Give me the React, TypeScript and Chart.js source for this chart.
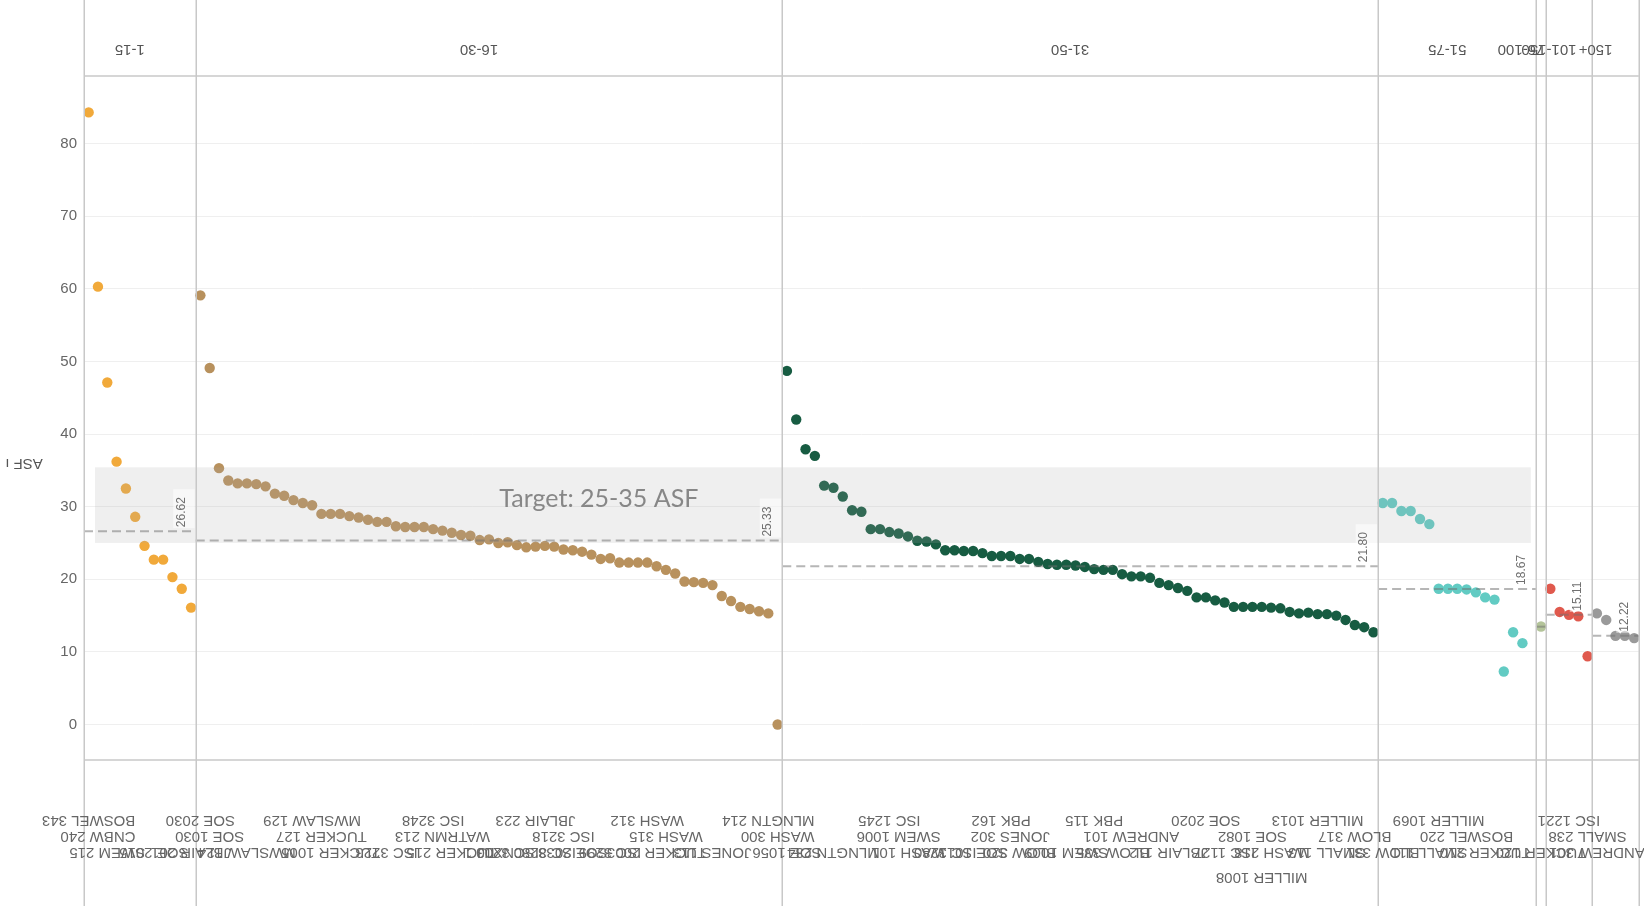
import React, { useEffect, useRef } from "react";
import { Chart, registerables } from "chart.js";

Chart.register(...registerables);

// ---------- DATA ----------
const groups = ["1-15", "16-30", "31-50", "51-75", "76-100", "101-150", "150+"];

const asf1 = [84.3, 60.3, 47.1, 36.2, 32.5, 28.6, 24.6, 22.7, 22.7, 20.3, 18.7, 16.1];
const asf2 = [
  59.1, 49.1, 35.3, 33.6, 33.2, 33.2, 33.1, 32.8, 31.8, 31.5, 30.9, 30.5, 30.2, 29.0, 29.0, 29.0,
  28.7, 28.5, 28.2, 27.9, 27.9, 27.3, 27.2, 27.2, 27.2, 26.9, 26.7, 26.4, 26.1, 26.0, 25.4, 25.5,
  25.0, 25.1, 24.7, 24.4, 24.5, 24.6, 24.5, 24.1, 24.0, 23.8, 23.4, 22.8, 22.9, 22.3, 22.3, 22.3,
  22.3, 21.8, 21.3, 20.8, 19.7, 19.6, 19.5, 19.2, 17.7, 17.0, 16.2, 15.9, 15.6, 15.3, 0,
];
const asf3 = [
  48.7, 42.0, 37.9, 37.0, 32.9, 32.6, 31.4, 29.5, 29.3, 26.9, 26.9, 26.5, 26.3, 25.9, 25.3, 25.2,
  24.8, 24.0, 24.0, 23.9, 23.9, 23.6, 23.2, 23.2, 23.2, 22.8, 22.8, 22.4, 22.1, 22.0, 22.0, 21.9,
  21.7, 21.4, 21.3, 21.3, 20.7, 20.4, 20.4, 20.2, 19.5, 19.2, 18.8, 18.4, 17.5, 17.5, 17.1, 16.8,
  16.2, 16.2, 16.2, 16.2, 16.1, 16.0, 15.5, 15.3, 15.4, 15.2, 15.2, 15.0, 14.4, 13.7, 13.4, 12.7,
];
const asf4: (number | null)[] = [30.5, 30.5, 29.4, 29.4, 28.3, 27.6, 18.7, 18.7, 18.7, 18.6, 18.2, 17.5, 17.2, 7.3, 12.7, 11.2, null];
const asf5 = [13.5];
const asf6 = [18.7, 15.5, 15.1, 14.9, 9.4];
const asf7 = [15.3, 14.4, 12.2, 12.2, 11.9];

const rooms1 = ["BOSWEL 343", "CNBW 240", "SWEM 215", "JBLAIR 313", "ISC 2291", "WASH 307", "SWEM DULIN", "SOE 2015", "ISC 1129", "TUCKER 124", "MLNGTN 211", "JBLAIR 201"];
const rooms2 = [
  "SOE 2030", "SOE 1030", "SOE 3030", "MWSLAW 133", "MWSLAW 119", "MWSLAW 124", "MWSLAW 137", "MWSLAW 120",
  "WREN 204", "SWEM 1005", "MWSLAW 141", "TUCKER 201", "MWSLAW 129", "TUCKER 127", "TUCKER 1005", "BLOW 311",
  "ISC 1111", "SOE 1016", "SOE 2016", "JBLAIR 205", "ISC 3223", "ISC 1125", "ISC 3253", "BOSWEL 4",
  "MLNGTN 113", "ISC 3248", "WATRMN 213", "TUCKER 215", "SWEM 1001", "ISC 3263", "NX00 3", "NX00 1",
  "MLNGTN 150", "ISC 3213", "ISC 3013", "CHNDLR 101", "JBLAIR 223", "ISC 3280", "MLNGTN 233", "ISC 3218",
  "SOE 2038", "TUCKER 121", "BLOW 201", "BOSWEL 2", "ISC 3299", "WASH 308", "JBLAIR 229", "MWSLAW 239",
  "WASH 312", "TUCKER 2003", "WASH 315", "MLNGTN 117", "APTS 220", "WASH 209", "MWSLAW 275", "JONES 113",
  "ISC 1279", "SWEM 2005", "WASH 317", "BOSWEL 305", "TUCKER 2008", "MLNGTN 214", "WASH 300",
];
const rooms3 = [
  "SOE 1056", "MWSLAW 139", "CHNDLR 102", "TUCKER 1001", "MWSLAW 140", "MLNGTN 234", "CHNDLR 201", "WASH 201",
  "MWSLAW 143", "MWSLAW 144", "CHNDLR 227", "ISC 1245", "SWEM 1006", "WASH 101", "MLNGTN 251", "WASH 104",
  "JBLAIR 206", "ISC 1280", "PBK 101", "WASH 107", "SOE 1013", "BLOW 334", "MLNGTN 119", "PBK 162",
  "JONES 302", "BLOW 320", "WASH 111", "JONES 306", "TUCKER 1030", "JONES 305", "SWEM 1009", "BOSWEL 303",
  "WREN 301", "PBK 115", "JBLAIR 208", "BLOW 335", "MILLER 1027", "ANDREW 101", "ISC 1113", "MILLER 1018",
  "ANDREW 201", "JBLAIR 112", "SMALL 122", "BLOW 330", "BOSWEL 203", "SOE 2020", "MILLER 1090", "ISC 1127",
  "CNBW 208", "TUCKER 102", "SOE 1082", "MILLER 1008", "WASH 218", "SWEM 2002", "BOSWEL 301", "WREN 201",
  "MWSLAW CTRM", "MILLER 1013", "SMALL 113", "JONES 304", "WASH 214", "BLOW 317", "MILLER 1084", "ANDREW 102",
];
const rooms4 = [
  "BLOW 331", "MWSLAW 126", "EWELL 151", "BLOW 332", "MWSLAW 127", "SMALL 111", "MILLER 1069", "EWELL 115",
  "SMALL 114", "BOSWEL 220", "MWSLAW 142", "TUCKER 210", "BOSWEL 225", "SMALL 109", "ANDREW 104", "JONES 201",
  "TUCKER 216",
];
const rooms5 = ["TUCKER 120"];
const rooms6 = ["TUCKER 112", "ANDREW 121", "ISC 1221", "EWELL 200", "SMALL 238"];
const rooms7 = ["ANDREW 301", "ANDREW 302", "ISC 3291", "WREN 200", "SMALL 150"];

const groupAverages = [26.62, 25.33, 21.8, 18.67, 13.47, 15.11, 12.22];
const groupColors = ["#f1a93a", "#b8915d", "#175c42", "#62cbc3", "#b4c49a", "#e0594d", "#9a9a9a"];

const targetLow = 25;
const targetHigh = 35;
const targetText = "Target: 25-35 ASF";
const yTitle = "ASF \u0131";

const seriesValues: (number | null)[][] = [asf1, asf2, asf3, asf4, asf5, asf6, asf7];
const seriesRooms: string[][] = [rooms1, rooms2, rooms3, rooms4, rooms5, rooms6, rooms7];

// ---------- DERIVED ----------
const offsets: number[] = [];
let acc = 0;
seriesValues.forEach((v) => {
  offsets.push(acc);
  acc += v.length;
});
const totalSlots = acc;

const W = 1644;
const H = 906;

const overlayPlugin = {
  id: "overlay",
  beforeDraw(chart: any) {
    const ctx = chart.ctx;
    ctx.save();
    ctx.fillStyle = "#ffffff";
    ctx.fillRect(0, 0, chart.width, chart.height);
    ctx.restore();
  },
  afterDatasetsDraw(chart: any) {
    const { ctx, chartArea: ca, scales } = chart;
    const x = scales.x;
    const y = scales.y;
    ctx.save();

    // target band (drawn over points, translucent)
    const bx0 = x.getPixelForValue(1.18);
    const bx1 = x.getPixelForValue(offsets[4] - 0.6);
    const by0 = y.getPixelForValue(targetHigh) - 3;
    const by1 = y.getPixelForValue(targetLow);
    ctx.fillStyle = "rgba(170,170,170,0.19)";
    ctx.fillRect(bx0, by0, bx1 - bx0, by1 - by0);

    // average reference lines
    groups.forEach((g, gi) => {
      const n = seriesValues[gi].length;
      const px0 = x.getPixelForValue(offsets[gi]);
      const px1 = x.getPixelForValue(offsets[gi] + n);
      const py = y.getPixelForValue(groupAverages[gi]);
      ctx.save();
      ctx.strokeStyle = "rgba(110,110,110,0.5)";
      ctx.lineWidth = 2;
      ctx.setLineDash([9, 5]);
      ctx.beginPath();
      ctx.moveTo(px0, py);
      ctx.lineTo(px1, py);
      ctx.stroke();
      ctx.restore();
      if (px1 - px0 > 30) {
        const label = groupAverages[gi].toFixed(2);
        ctx.save();
        ctx.font = '12px "Liberation Sans", Arial, sans-serif';
        const tw = ctx.measureText(label).width;
        const cx = px1 - 14.5;
        const bottom = py - 4;
        ctx.fillStyle = "rgba(255,255,255,0.55)";
        ctx.fillRect(cx - 8, bottom - tw - 8, px1 - (cx - 8) - 1, tw + 9);
        ctx.translate(cx, bottom);
        ctx.rotate(-Math.PI / 2);
        ctx.fillStyle = "#707070";
        ctx.textAlign = "left";
        ctx.textBaseline = "middle";
        ctx.fillText(label, 0, 0);
        ctx.restore();
      }
    });

    // target annotation
    ctx.save();
    ctx.font = '25px Lato, "Noto Sans", sans-serif';
    ctx.fillStyle = "#878787";
    ctx.textAlign = "center";
    ctx.textBaseline = "alphabetic";
    ctx.fillText(targetText, x.getPixelForValue(55.3), y.getPixelForValue(30));
    ctx.restore();

    // panel divider lines and frame
    ctx.strokeStyle = "#c8c8c8";
    ctx.lineWidth = 1.5;
    const bounds = [...offsets, totalSlots];
    bounds.forEach((b) => {
      const px = Math.round(x.getPixelForValue(b)) + 0.25;
      ctx.beginPath();
      ctx.moveTo(px, 0);
      ctx.lineTo(px, chart.height);
      ctx.stroke();
    });
    [ca.top, ca.bottom].forEach((py: number) => {
      ctx.beginPath();
      ctx.moveTo(ca.left, py);
      ctx.lineTo(ca.right, py);
      ctx.stroke();
    });

    // header labels (upside-down)
    ctx.font = '15px "Liberation Sans", Arial, sans-serif';
    ctx.fillStyle = "#555555";
    ctx.textAlign = "center";
    ctx.textBaseline = "middle";
    groups.forEach((g, gi) => {
      const n = seriesValues[gi].length;
      const pw = x.getPixelForValue(offsets[gi] + n) - x.getPixelForValue(offsets[gi]);
      const shift = pw < 60 ? 20 : 10;
      const cx = x.getPixelForValue(offsets[gi] + n / 2) - shift;
      ctx.save();
      ctx.translate(cx, ca.top - 27);
      ctx.rotate(Math.PI);
      ctx.fillText(g, 0, 0);
      ctx.restore();
    });

    // footer category labels (upside-down, staggered; heavily overlapping ones are dropped)
    ctx.font = '15px "Liberation Sans", Arial, sans-serif';
    ctx.fillStyle = "#666666";
    const rowY = [ca.bottom + 60, ca.bottom + 76, ca.bottom + 92, ca.bottom + 117];
    const rowGap = [28, 28, -38, 900];
    const lastRight = [-1e9, -1e9, -1e9, 300];
    seriesRooms.forEach((rooms, gi) => {
      rooms.forEach((name, i) => {
        const cx = x.getPixelForValue(offsets[gi] + i + 0.5);
        const w = ctx.measureText(name).width;
        let row = -1;
        for (let r = 0; r < rowY.length; r++) {
          if (cx - w / 2 > lastRight[r] + rowGap[r]) {
            row = r;
            lastRight[r] = cx + w / 2;
            break;
          }
        }
        if (row < 0) return;
        ctx.save();
        ctx.translate(cx, rowY[row]);
        ctx.rotate(Math.PI);
        ctx.fillText(name, 0, 0);
        ctx.restore();
      });
    });

    // y axis title (upside-down)
    ctx.save();
    ctx.font = '15px "Liberation Sans", Arial, sans-serif';
    ctx.fillStyle = "#555555";
    ctx.translate(24, 463);
    ctx.rotate(Math.PI);
    ctx.fillText(yTitle, 0, 0);
    ctx.restore();

    ctx.restore();
  },
};

export default function App() {
  const canvasRef = useRef<HTMLCanvasElement | null>(null);

  useEffect(() => {
    document.body.style.margin = "0";
    const canvas = canvasRef.current;
    if (!canvas) return;
    const datasets = seriesValues.map((vals, gi) => ({
      label: groups[gi],
      data: vals
        .map((v, i) => ({ x: offsets[gi] + i + 0.5, y: v }))
        .filter((p) => p.y !== null) as { x: number; y: number }[],
      backgroundColor: groupColors[gi],
      borderColor: groupColors[gi],
      borderWidth: 0,
      pointRadius: 5.2,
      pointHoverRadius: 5.2,
    }));
    const chart = new Chart(canvas, {
      type: "scatter",
      data: { datasets },
      options: {
        animation: false,
        responsive: false,
        events: [],
        layout: { padding: { top: 76, bottom: H - 760, left: 0, right: 2 } },
        plugins: { legend: { display: false }, tooltip: { enabled: false } },
        scales: {
          x: { type: "linear", min: 0, max: totalSlots, display: false },
          y: {
            type: "linear",
            min: -4.89,
            max: 89.31,
            afterFit: (scale: any) => {
              scale.width = 84;
            },
            border: { display: false },
            grid: { color: "#efefef", lineWidth: 1, drawTicks: false },
            ticks: {
              stepSize: 10,
              includeBounds: false,
              padding: 7,
              color: "#666666",
              font: { family: '"Liberation Sans", Arial, sans-serif', size: 15 },
            },
          },
        },
      },
      plugins: [overlayPlugin],
    });
    return () => chart.destroy();
  }, []);

  return (
    <div style={{ width: W, height: H }}>
      <canvas ref={canvasRef} width={W} height={H} style={{ display: "block" }} />
    </div>
  );
}
